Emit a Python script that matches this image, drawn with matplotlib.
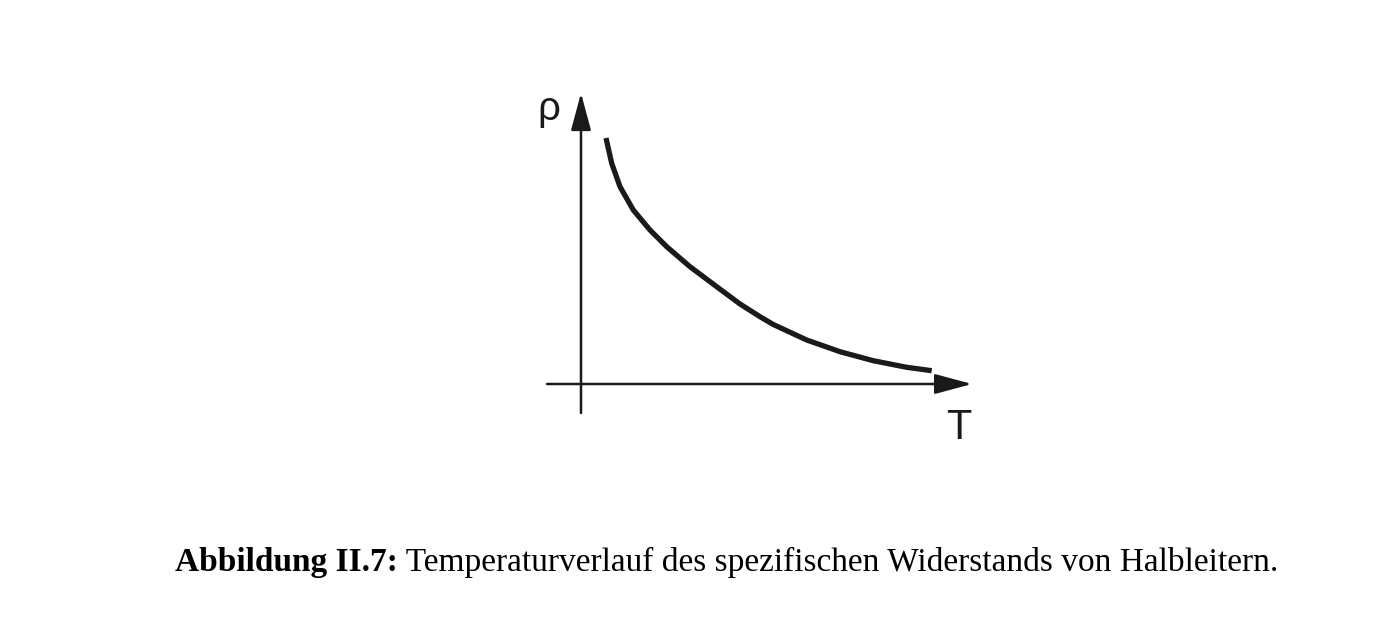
import matplotlib
matplotlib.use("Agg")
import matplotlib.pyplot as plt

# Data (T and rho in arbitrary units)
T_vals = [0.714, 0.877, 1.114, 1.494, 1.971, 2.449, 3.114, 3.877, 4.543, 5.114,
          5.494, 6.449, 7.400, 8.351, 9.306, 10.020]
rho_vals = [8.483, 7.610, 6.804, 6.000, 5.310, 4.734, 4.045, 3.355, 2.759, 2.321,
            2.052, 1.517, 1.114, 0.803, 0.576, 0.459]

axis_label_x = "T"
axis_label_y = "ρ"
caption_bold = "Abbildung II.7:"
caption_text = " Temperaturverlauf des spezifischen Widerstands von Halbleitern."

W, H = 1390, 638
fig = plt.figure(figsize=(W / 100, H / 100), dpi=100)
ax = fig.add_axes([0, 0, 1, 1])
# origin at px (581,384), 35 px per T unit, 29 px per rho unit
ax.set_xlim((0 - 581) / 35, (W - 581) / 35)
ax.set_ylim((384 - H) / 29, 384 / 29)
ax.axis("off")

ink = "#1a1a1a"
astyle = "-|>,head_length=1.15,head_width=0.31"
ax.annotate("", xy=(11.17, 0), xytext=(-0.97, 0),
            arrowprops=dict(arrowstyle=astyle, mutation_scale=20, lw=1.8,
                            color=ink, shrinkA=0, shrinkB=0))
ax.annotate("", xy=(0, 10.03), xytext=(0, -1.0),
            arrowprops=dict(arrowstyle=astyle, mutation_scale=20, lw=1.8,
                            color=ink, shrinkA=0, shrinkB=0))

ax.plot(T_vals, rho_vals, color=ink, lw=3.8, solid_capstyle="butt",
        solid_joinstyle="round")

ax.text(-0.93, 9.5, axis_label_y, fontsize=29, family="Liberation Sans",
        ha="center", va="center", color=ink)
ax.text(10.8, -1.52, axis_label_x, fontsize=30, family="Liberation Sans",
        ha="center", va="center", color=ink)

# caption
y_cap = (H - 571) / H
t1 = fig.text(175 / W, y_cap, caption_bold, fontsize=24, family="Liberation Serif",
              weight="bold", va="baseline", ha="left", color="black")
fig.canvas.draw()
bb = t1.get_window_extent()
fig.text(bb.x1 / W, y_cap, caption_text, fontsize=24, family="Liberation Serif",
         va="baseline", ha="left", color="black")

fig.savefig("out.png", dpi=100)
